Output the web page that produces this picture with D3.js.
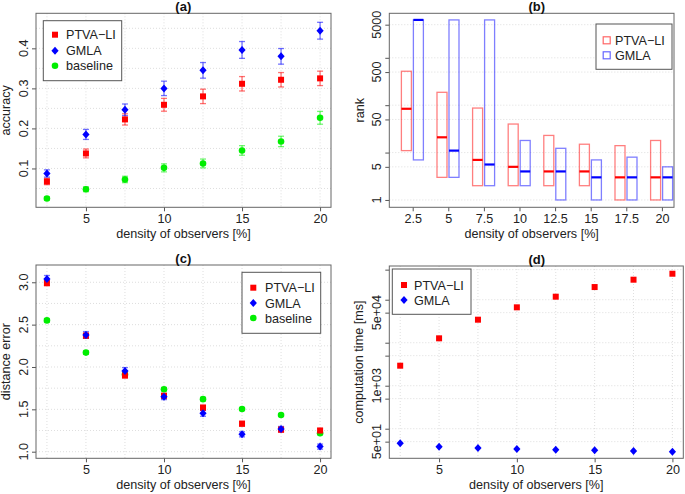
<!DOCTYPE html>
<html>
<head>
<meta charset="utf-8">
<script src="https://cdn.jsdelivr.net/npm/d3@7"></script>
<style>
  html, body { margin: 0; padding: 0; background: #fff; }
  svg { display: block; font-family: "Liberation Sans", Arial, Helvetica, sans-serif; }
</style>
</head>
<body>
<svg id="chart" width="685" height="494"></svg>
<script>
// ---------------- DATA ----------------
const density = [2.5, 5, 7.5, 10, 12.5, 15, 17.5, 20];
const densityLabels = ["2.5", "5", "7.5", "10", "12.5", "15", "17.5", "20"];

// (a) accuracy
const accPTVA = [0.0675, 0.1375, 0.2225, 0.259, 0.280, 0.3115, 0.3215, 0.325];
const accPTVAErr = [0.008, 0.011, 0.014, 0.016, 0.018, 0.018, 0.018, 0.018];
const accGMLA = [0.0875, 0.185, 0.2465, 0.300, 0.345, 0.396, 0.380, 0.444];
const accGMLAErr = [0.009, 0.0125, 0.0145, 0.018, 0.0195, 0.021, 0.0195, 0.021];
const accBase = [0.025, 0.048, 0.0725, 0.1015, 0.1125, 0.145, 0.1675, 0.2265];
const accBaseErr = [0.004, 0.006, 0.008, 0.010, 0.011, 0.012, 0.013, 0.016];
const accTicks = [0.1, 0.2, 0.3, 0.4];

// (b) rank boxes: [bottom, median, top]
const rankPTVALow = [11, 3, 2, 2, 2, 2, 1, 1];
const rankPTVAMed = [84, 21, 7, 5, 4, 4, 3, 3];
const rankPTVAHigh = [520, 187, 87, 40, 23, 15, 14, 18];
const rankGMLALow = [7, 3, 2, 2, 1, 1, 1, 1];
const rankGMLAMed = [6300, 11, 5.6, 4, 4, 3, 3, 3];
const rankGMLAHigh = [6300, 6300, 6300, 18, 12.3, 7, 8, 5];
const rankTicks = [1, 5, 10, 50, 100, 500, 1000, 5000];
const rankTickLabels = ["1", "5", "", "50", "", "500", "", "5000"];

// (c) distance error
const distPTVA = [2.99, 2.37, 1.90, 1.66, 1.52, 1.33, 1.26, 1.25];
const distPTVAErr = [0.03, 0.03, 0.03, 0.03, 0.03, 0.03, 0.03, 0.025];
const distGMLA = [3.04, 2.378, 1.953, 1.65, 1.453, 1.205, 1.268, 1.06];
const distGMLAErr = [0.04, 0.04, 0.04, 0.035, 0.035, 0.03, 0.03, 0.03];
const distBase = [2.55, 2.17, 1.91, 1.737, 1.62, 1.504, 1.433, 1.217];
const distBaseErr = [0.02, 0.02, 0.02, 0.02, 0.02, 0.015, 0.015, 0.015];
const distTicks = [1.0, 1.5, 2.0, 2.5, 3.0];

// (d) computation time [ms]
const timePTVA = [2920, 12650, 34300, 66500, 117500, 197000, 292000, 402000];
const timeGMLA = [46, 38, 35.6, 33.7, 32.5, 31.4, 30.2, 29.2];
const timeTicks = [50, 100, 500, 1000, 5000, 10000, 50000, 100000, 500000];
const timeTickLabels = ["5e+01", "", "", "1e+03", "", "", "5e+04", "", ""];

const xTicks = [5, 10, 15, 20];
const xGrid = density;

// ---------------- STYLE ----------------
const RED = "#ff0000", BLUE = "#0000ff", GREEN = "#00ee00";
const FONT = 12.6;
const svg = d3.select("#chart");

function diamond(r) {
  return `M0,${-r}L${r * 0.9},0L0,${r}L${-r * 0.9},0Z`;
}

function drawFrame(g, x, y, box, o) {
  // grid
  const grid = g.append("g").attr("stroke", "#d6d6d6").attr("stroke-width", 0.8)
    .attr("stroke-dasharray", "1,2");
  (o.xGrid || []).forEach(v => grid.append("line")
    .attr("x1", x(v)).attr("x2", x(v)).attr("y1", box.t).attr("y2", box.b));
  (o.yGrid || []).forEach(v => grid.append("line")
    .attr("x1", box.l).attr("x2", box.r).attr("y1", y(v)).attr("y2", y(v)));

  // x axis
  const xa = g.append("g").attr("transform", `translate(0,${box.b})`)
    .call(d3.axisBottom(x).tickValues(o.xTicks).tickFormat((d, i) => o.xLabels ? o.xLabels[i] : d)
      .tickSizeOuter(0).tickSize(4).tickPadding(4));
  xa.select(".domain").remove();
  xa.selectAll("line").attr("stroke", "#555");
  xa.selectAll("text").attr("font-size", FONT).attr("fill", "#222")
    .attr("font-family", "Liberation Sans, Arial, sans-serif").attr("dy", null).attr("y", 16);

  // y axis (rotated labels, R style)
  const ya = g.append("g").attr("transform", `translate(${box.l},0)`)
    .call(d3.axisLeft(y).tickValues(o.yTicks).tickFormat("").tickSizeOuter(0).tickSize(4));
  ya.select(".domain").remove();
  ya.selectAll("line").attr("stroke", "#555");
  o.yTicks.forEach((v, i) => {
    const lab = o.yLabels ? o.yLabels[i] : o.yFmt(v);
    if (!lab) return;
    g.append("text").attr("transform", `translate(${box.l - 8},${y(v)}) rotate(-90)`)
      .attr("text-anchor", "middle").attr("font-size", FONT).attr("fill", "#222").text(lab);
  });

  // box
  g.append("rect").attr("x", box.l).attr("y", box.t).attr("width", box.r - box.l)
    .attr("height", box.b - box.t).attr("fill", "none").attr("stroke", "#666").attr("stroke-width", 1);

  // titles
  g.append("text").attr("x", o.titleX).attr("y", box.t - 2).attr("text-anchor", "middle")
    .attr("font-weight", "bold").attr("font-size", 13).attr("fill", "#111").text(o.title);
  g.append("text").attr("x", (box.l + box.r) / 2 + (o.xTitleShift || 0)).attr("y", box.b + 30.5)
    .attr("text-anchor", "middle").attr("font-size", FONT).attr("fill", "#222").text("density of observers [%]");
  g.append("text").attr("transform", `translate(${o.yTitleX},${(box.t + box.b) / 2}) rotate(-90)`)
    .attr("text-anchor", "middle").attr("font-size", FONT).attr("fill", "#222").text(o.yTitle);
}

function drawErr(g, x, y, xs, vs, es, color) {
  const eg = g.append("g").attr("stroke", color).attr("stroke-opacity", 0.55).attr("stroke-width", 1.3);
  xs.forEach((xv, i) => {
    const cx = x(xv), y1 = y(vs[i] - es[i]), y2 = y(vs[i] + es[i]);
    eg.append("line").attr("x1", cx).attr("x2", cx).attr("y1", y1).attr("y2", y2);
    eg.append("line").attr("x1", cx - 3).attr("x2", cx + 3).attr("y1", y1).attr("y2", y1);
    eg.append("line").attr("x1", cx - 3).attr("x2", cx + 3).attr("y1", y2).attr("y2", y2);
  });
}

function drawPoints(g, x, y, xs, vs, shape, color) {
  xs.forEach((xv, i) => {
    const cx = x(xv), cy = y(vs[i]);
    if (shape === "square") {
      g.append("rect").attr("x", cx - 3).attr("y", cy - 3).attr("width", 6).attr("height", 6).attr("fill", color);
    } else if (shape === "diamond") {
      g.append("path").attr("d", diamond(4)).attr("transform", `translate(${cx},${cy})`).attr("fill", color);
    } else {
      g.append("circle").attr("cx", cx).attr("cy", cy).attr("r", 3.3).attr("fill", color);
    }
  });
}

function legend(g, lb, items, symX, textX, rowYs) {
  g.append("rect").attr("x", lb.l).attr("y", lb.t).attr("width", lb.r - lb.l).attr("height", lb.b - lb.t)
    .attr("fill", "#fff").attr("stroke", "#555").attr("stroke-width", 1);
  items.forEach((it, i) => {
    const cy = rowYs[i];
    if (it.shape === "square") {
      g.append("rect").attr("x", symX - 3).attr("y", cy - 3).attr("width", 6).attr("height", 6).attr("fill", it.color);
    } else if (it.shape === "diamond") {
      g.append("path").attr("d", diamond(4)).attr("transform", `translate(${symX},${cy})`).attr("fill", it.color);
    } else if (it.shape === "circle") {
      g.append("circle").attr("cx", symX).attr("cy", cy).attr("r", 3.3).attr("fill", it.color);
    } else {
      g.append("rect").attr("x", symX - 3.5).attr("y", cy - 3.5).attr("width", 7).attr("height", 7)
        .attr("fill", "none").attr("stroke", it.color).attr("stroke-opacity", 0.6).attr("stroke-width", 1.2);
    }
    g.append("text").attr("x", textX).attr("y", cy + 4.6).attr("font-size", FONT).attr("fill", "#222").text(it.label);
  });
}

// ---------------- PANEL (a) ----------------
{
  const box = { l: 36, r: 331, t: 13.3, b: 207.3 };
  const x = d3.scaleLinear().domain([1.8, 20.7]).range([box.l, box.r]);
  const y = d3.scaleLinear().domain([0.003, 0.4875]).range([box.b, box.t]);
  const g = svg.append("g");
  drawFrame(g, x, y, box, {
    xTicks, xGrid, yGrid: [0.05, 0.1, 0.15, 0.2, 0.25, 0.3, 0.35, 0.4, 0.45],
    yTicks: accTicks, yFmt: d3.format(".1f"), title: "(a)", titleX: 183.3,
    yTitle: "accuracy", yTitleX: 10
  });
  drawErr(g, x, y, density, accPTVA, accPTVAErr, RED);
  drawErr(g, x, y, density, accGMLA, accGMLAErr, BLUE);
  drawErr(g, x, y, density, accBase, accBaseErr, GREEN);
  drawPoints(g, x, y, density, accPTVA, "square", RED);
  drawPoints(g, x, y, density, accGMLA, "diamond", BLUE);
  drawPoints(g, x, y, density, accBase, "circle", GREEN);
  legend(g, { l: 43.3, r: 121.7, t: 20.7, b: 80.7 }, [
    { label: "PTVA\u2212LI", shape: "square", color: RED },
    { label: "GMLA", shape: "diamond", color: BLUE },
    { label: "baseline", shape: "circle", color: GREEN }
  ], 55, 66, [34.7, 50.7, 65.7]);
}

// ---------------- PANEL (b) ----------------
{
  const box = { l: 389.3, r: 674, t: 13.3, b: 207.3 };
  const x = d3.scaleLinear().domain([0.343, 8.34]).range([box.l, box.r]);
  const y = d3.scaleLog().domain([0.70, 8690]).range([box.b, box.t]);
  const g = svg.append("g");
  const pos = density.map((d, i) => i + 1);
  drawFrame(g, x, y, box, {
    xTicks: pos, xLabels: densityLabels, xGrid: [], yGrid: rankTicks,
    yTicks: rankTicks, yLabels: rankTickLabels, title: "(b)", titleX: 536.7,
    yTitle: "rank", yTitleX: 363.5
  });
  const bw = 10;
  function boxes(low, med, high, color, off) {
    pos.forEach((p, i) => {
      const cx = x(p) + off;
      g.append("rect").attr("x", cx - bw / 2).attr("y", y(high[i])).attr("width", bw)
        .attr("height", y(low[i]) - y(high[i])).attr("fill", "none")
        .attr("stroke", color).attr("stroke-opacity", 0.5).attr("stroke-width", 1.3);
      g.append("line").attr("x1", cx - bw / 2).attr("x2", cx + bw / 2).attr("y1", y(med[i])).attr("y2", y(med[i]))
        .attr("stroke", color).attr("stroke-width", 2.2);
    });
  }
  boxes(rankPTVALow, rankPTVAMed, rankPTVAHigh, RED, -6.3);
  boxes(rankGMLALow, rankGMLAMed, rankGMLAHigh, BLUE, 5.7);
  legend(g, { l: 596, r: 672, t: 24, b: 69.3 }, [
    { label: "PTVA\u2212LI", shape: "open", color: RED },
    { label: "GMLA", shape: "open", color: BLUE }
  ], 606.7, 615, [40.3, 55.3]);
}

// ---------------- PANEL (c) ----------------
{
  const box = { l: 36, r: 331, t: 265, b: 458.3 };
  const x = d3.scaleLinear().domain([1.8, 20.7]).range([box.l, box.r]);
  const y = d3.scaleLinear().domain([0.922, 3.204]).range([box.b, box.t]);
  const g = svg.append("g");
  drawFrame(g, x, y, box, {
    xTicks, xGrid, yGrid: [1.0, 1.25, 1.5, 1.75, 2.0, 2.25, 2.5, 2.75, 3.0],
    yTicks: distTicks, yFmt: d3.format(".1f"), title: "(c)", titleX: 183.3,
    yTitle: "distance error", yTitleX: 10
  });
  drawErr(g, x, y, density, distPTVA, distPTVAErr, RED);
  drawErr(g, x, y, density, distGMLA, distGMLAErr, BLUE);
  drawErr(g, x, y, density, distBase, distBaseErr, GREEN);
  drawPoints(g, x, y, density, distBase, "circle", GREEN);
  drawPoints(g, x, y, density, distPTVA, "square", RED);
  drawPoints(g, x, y, density, distGMLA, "diamond", BLUE);
  legend(g, { l: 242, r: 320.7, t: 272.3, b: 333.3 }, [
    { label: "PTVA\u2212LI", shape: "square", color: RED },
    { label: "GMLA", shape: "diamond", color: BLUE },
    { label: "baseline", shape: "circle", color: GREEN }
  ], 253.3, 265, [287.7, 303, 318]);
}

// ---------------- PANEL (d) ----------------
{
  const box = { l: 389.3, r: 683.3, t: 266, b: 458.3 };
  const x = d3.scaleLinear().domain([1.8, 20.7]).range([box.l, box.r]);
  const y = d3.scaleLog().domain([20.5, 608000]).range([box.b, box.t]);
  const g = svg.append("g");
  drawFrame(g, x, y, box, {
    xTicks, xGrid, yGrid: timeTicks,
    yTicks: timeTicks, yLabels: timeTickLabels, title: "(d)", titleX: 536.7,
    yTitle: "computation time [ms]", yTitleX: 363
  });
  drawPoints(g, x, y, density, timePTVA, "square", RED);
  drawPoints(g, x, y, density, timeGMLA, "diamond", BLUE);
  legend(g, { l: 392.3, r: 471, t: 269, b: 314.3 }, [
    { label: "PTVA\u2212LI", shape: "square", color: RED },
    { label: "GMLA", shape: "diamond", color: BLUE }
  ], 404, 414, [285, 300]);
}
</script>
</body>
</html>
